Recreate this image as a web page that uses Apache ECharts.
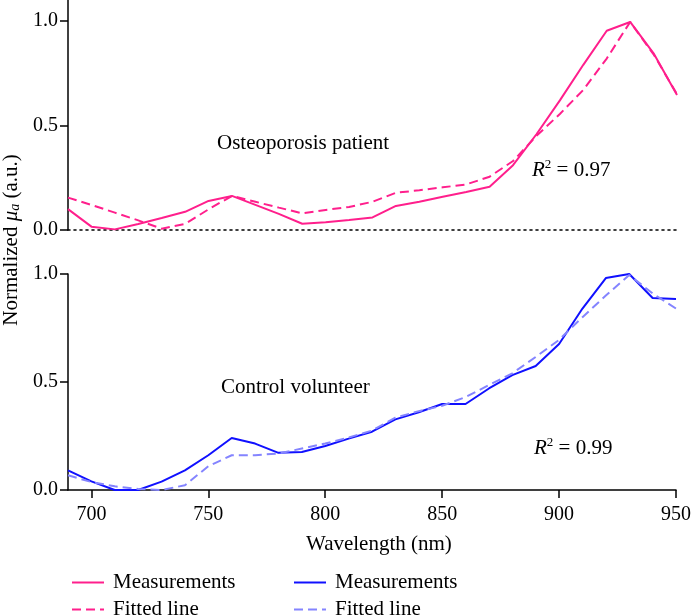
<!DOCTYPE html>
<html><head><meta charset="utf-8">
<script src="https://cdn.jsdelivr.net/npm/echarts@6/dist/echarts.min.js"></script>
<style>html,body{margin:0;padding:0;background:#fff}#c{width:694px;height:615px}</style>
</head><body><div id="c"></div>
<script>
const wavelengths = [690,700,710,720,730,740,750,760,770,780,790,800,810,820,830,840,850,860,870,880,890,900,910,920,930,940,950];
const osteoMeas = [0.10,0.016,0.003,0.029,0.057,0.087,0.139,0.163,0.12,0.077,0.03,0.037,0.048,0.06,0.115,0.135,0.159,0.182,0.207,0.31,0.458,0.62,0.79,0.953,0.995,0.845,0.646];
const osteoFit = [0.155,0.12,0.083,0.046,0.006,0.029,0.099,0.163,0.135,0.107,0.08,0.096,0.11,0.135,0.178,0.19,0.204,0.218,0.255,0.33,0.45,0.555,0.67,0.82,0.995,0.84,0.65];
const controlMeas = [0.091,0.04,0.0,0.0,0.039,0.091,0.161,0.241,0.215,0.172,0.176,0.204,0.238,0.27,0.327,0.36,0.398,0.398,0.47,0.532,0.574,0.676,0.84,0.981,1.0,0.889,0.884];
const controlFit = [0.068,0.037,0.017,0.005,0.0,0.022,0.11,0.161,0.161,0.169,0.192,0.215,0.243,0.275,0.335,0.365,0.39,0.43,0.486,0.54,0.616,0.695,0.80,0.90,0.995,0.91,0.84];
const xTicks = [700,750,800,850,900,950];
const yTicks = [0,0.5,1.0];
const legendNames = ['Measurements','Fitted line'];

const FONT = 'Liberation Serif';
const pink = '#ff1f8c', blue = '#1010ff', lightBlue = '#8484ff';
const pair = ys => wavelengths.map((w,i)=>[w, ys[i]]);
const blk = {color:'#000', width:1.5};

function yAxis(grid, max){
  return {gridIndex:grid, type:'value', min:0, max:max,
    axisLine:{show:true, lineStyle:blk},
    axisTick:{show:true, customValues:yTicks, length:8, lineStyle:blk},
    axisLabel:{customValues:yTicks, formatter:v=>v.toFixed(1), fontFamily:FONT, fontSize:20, color:'#000', margin:10},
    splitLine:{show:false}};
}
function legend(names, left, fmt){
  const l = {data:names, orient:'vertical', left:left, top:572, height:60, padding:0,
    itemWidth:32, itemHeight:14, itemGap:6,
    itemStyle:{color:'rgba(0,0,0,0)', borderWidth:0, opacity:0},
    textStyle:{fontFamily:FONT, fontSize:21, color:'#000', padding:[0,0,0,4]}};
  if (fmt) l.formatter = fmt;
  return l;
}
const chart = echarts.init(document.getElementById('c'));
const lbl = {fontFamily:FONT, fontSize:21, fill:'#000'};
chart.setOption({
  animation:false,
  grid:[{left:68, top:0, width:609, height:230},{left:68, top:274, width:609, height:216}],
  xAxis:[
    {gridIndex:0, type:'value', min:690, max:950,
      axisLine:{lineStyle:{color:'#000', width:1.6, type:[2,4]}},
      axisTick:{show:false}, axisLabel:{show:false}, splitLine:{show:false}},
    {gridIndex:1, type:'value', min:690, max:950,
      axisLine:{lineStyle:blk},
      axisTick:{customValues:xTicks, length:8, lineStyle:blk},
      axisLabel:{customValues:xTicks, fontFamily:FONT, fontSize:20, color:'#000', margin:15},
      splitLine:{show:false}}
  ],
  yAxis:[yAxis(0,1.1), yAxis(1,1.0)],
  legend:[
    legend(legendNames, 71),
    legend(legendNames.map(n=>n+'#2'), 293, n=>n.replace('#2',''))
  ],
  series:[
    {name:'Measurements', type:'line', xAxisIndex:0, yAxisIndex:0, data:pair(osteoMeas), symbol:'none', lineStyle:{color:pink, width:2}, itemStyle:{color:pink}},
    {name:'Fitted line', type:'line', xAxisIndex:0, yAxisIndex:0, data:pair(osteoFit), symbol:'none', lineStyle:{color:pink, width:2, type:[9,5]}, itemStyle:{color:pink}},
    {name:'Measurements#2', type:'line', xAxisIndex:1, yAxisIndex:1, data:pair(controlMeas), symbol:'none', lineStyle:{color:blue, width:2}, itemStyle:{color:blue}},
    {name:'Fitted line#2', type:'line', xAxisIndex:1, yAxisIndex:1, data:pair(controlFit), symbol:'none', lineStyle:{color:lightBlue, width:2, type:[9,5]}, itemStyle:{color:lightBlue}}
  ],
  graphic:[
    {type:'text', x:217, y:143, style:Object.assign({text:'Osteoporosis patient', verticalAlign:'middle'}, lbl)},
    {type:'text', x:221, y:387, style:Object.assign({text:'Control volunteer', verticalAlign:'middle'}, lbl)},
    {type:'text', x:532, y:170, style:{text:'{i|R}{p|2}{n| = 0.97}', verticalAlign:'middle',
      rich:{i:{fontFamily:FONT,fontSize:21,fontStyle:'italic',fill:'#000'}, p:{fontFamily:FONT,fontSize:13,fill:'#000',padding:[0,0,10,0]}, n:{fontFamily:FONT,fontSize:21,fill:'#000'}}}},
    {type:'text', x:534, y:448, style:{text:'{i|R}{p|2}{n| = 0.99}', verticalAlign:'middle',
      rich:{i:{fontFamily:FONT,fontSize:21,fontStyle:'italic',fill:'#000'}, p:{fontFamily:FONT,fontSize:13,fill:'#000',padding:[0,0,10,0]}, n:{fontFamily:FONT,fontSize:21,fill:'#000'}}}},
    {type:'text', x:306, y:544, style:Object.assign({text:'Wavelength (nm)', verticalAlign:'middle'}, lbl)},
    {type:'text', x:11, y:240, rotation:Math.PI/2, style:{text:'{n|Normalized }{i|μ}{s|a}{n| (a.u.)}', align:'center', verticalAlign:'middle',
      rich:{n:{fontFamily:FONT,fontSize:21,fill:'#000'}, i:{fontFamily:FONT,fontSize:21,fontStyle:'italic',fill:'#000'}, s:{fontFamily:FONT,fontSize:14,fontStyle:'italic',fill:'#000',padding:[8,0,0,0]}}}}
  ]
});
</script></body></html>
